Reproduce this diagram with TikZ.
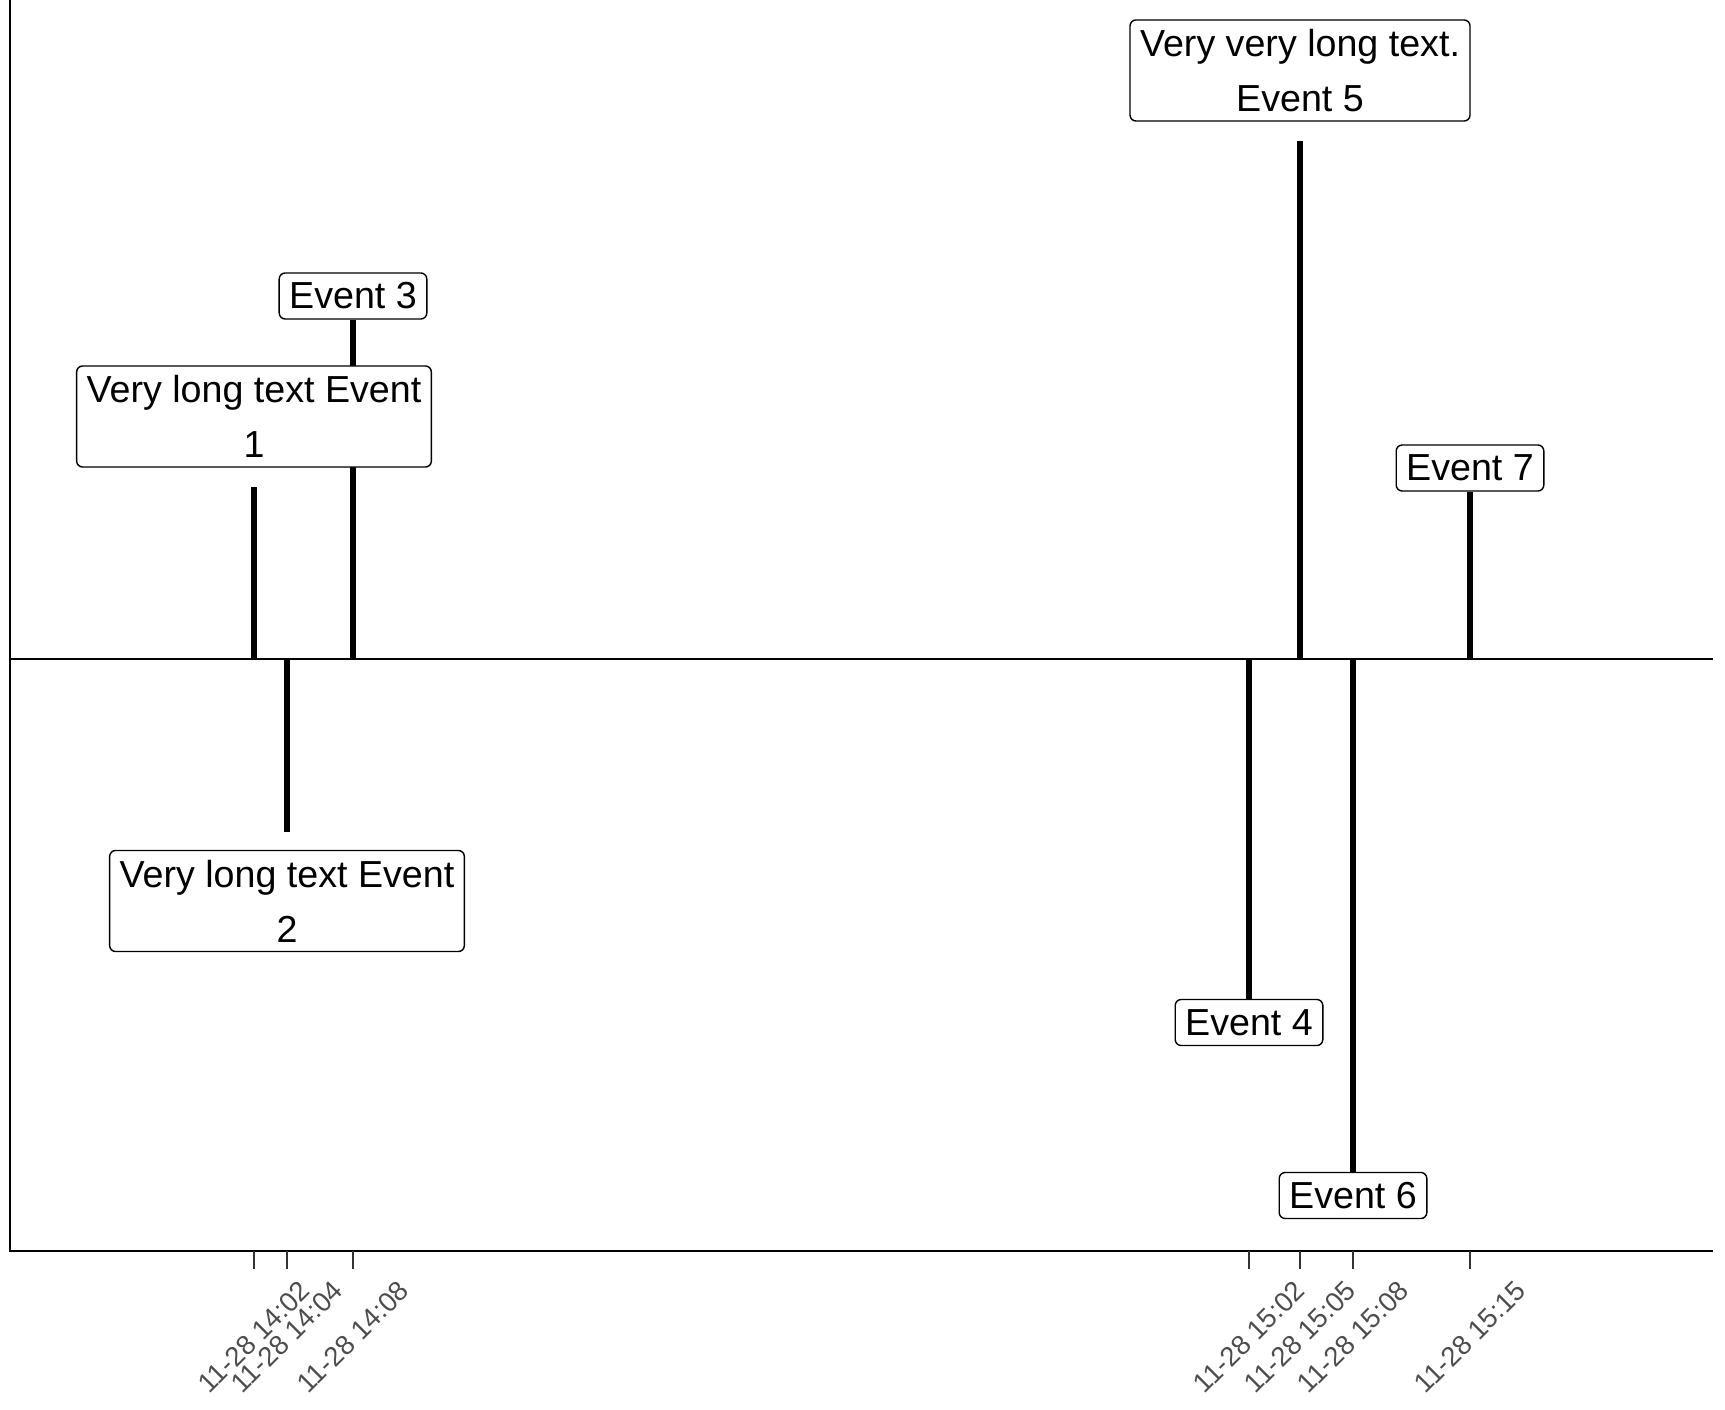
\documentclass[tikz,border=0pt]{standalone}
\usepackage{fontspec}
\setmainfont{Liberation Sans}
\usetikzlibrary{backgrounds}
\definecolor{tickgray}{RGB}{51,51,51}
\definecolor{labgray}{RGB}{77,77,77}

\begin{document}
\begin{tikzpicture}[x=0.01cm, y=-0.01cm,
  ev/.style={rectangle, rounded corners=0.06cm, draw=black, line width=0.4pt, fill=white, inner xsep=0.1cm, inner ysep=0.02cm, minimum height=0.46cm, align=center, font=\fontsize{10.7}{15.6}\selectfont},
  evtwo/.style={ev, minimum height=1.01cm},
  stem/.style={line width=1.6pt},
  axisline/.style={line width=0.7pt},
  tk/.style={draw=tickgray, line width=0.7pt},
  tklab/.style={rotate=45, font=\fontsize{7.8}{9}\selectfont, text=labgray}
]
\useasboundingbox (0,0) rectangle (1725,1410);
% axes
\draw[axisline] (10,0) -- (10,1251) -- (1713,1251);
\draw[line width=0.55pt] (10,659) -- (1713,659);
% baseline points
\coordinate (b1) at (254,659);
\coordinate (b2) at (287,659);
\coordinate (b3) at (353,659);
\coordinate (b4) at (1249,659);
\coordinate (b5) at (1300,659);
\coordinate (b6) at (1353,659);
\coordinate (b7) at (1470,659);
% event boxes
\node[ev] (e3) at (353,296) {Event 3};
\node[evtwo] (e1) at (254,416.5) {Very long text Event\\1};
\node[evtwo] (e2) at (287,901) {Very long text Event\\2};
\node[ev] (e4) at (1249,1022.5) {Event 4};
\node[evtwo] (e5) at (1300,70.5) {Very very long text.\\Event 5};
\node[ev] (e6) at (1353,1195.5) {Event 6};
\node[ev] (e7) at (1470,468) {Event 7};
\begin{scope}[on background layer]
\draw[stem, shorten >=0.19cm] (b1) -- (e1.south);
\draw[stem, shorten >=0.18cm] (b2) -- (e2.north);
\draw[stem] (b3) -- (e3.south);
\draw[stem] (b4) -- (e4.north);
\draw[stem, shorten >=0.19cm] (b5) -- (e5.south);
\draw[stem] (b6) -- (e6.north);
\draw[stem] (b7) -- (e7.south);
\end{scope}
% ticks and labels
\draw[tk] (254,1251) -- (254,1269);
\draw[tk] (287,1251) -- (287,1269);
\draw[tk] (353,1251) -- (353,1269);
\draw[tk] (1249,1251) -- (1249,1269);
\draw[tk] (1300,1251) -- (1300,1269);
\draw[tk] (1353,1251) -- (1353,1269);
\draw[tk] (1470,1251) -- (1470,1269);
\node[tklab] (t1) at (254,1337) {11-28 14:02};
\node[tklab] (t2) at (287,1337) {11-28 14:04};
\node[tklab] (t3) at (353,1337) {11-28 14:08};
\node[tklab] (t4) at (1249,1337) {11-28 15:02};
\node[tklab] (t5) at (1300,1337) {11-28 15:05};
\node[tklab] (t6) at (1353,1337) {11-28 15:08};
\node[tklab] (t7) at (1470,1337) {11-28 15:15};
\end{tikzpicture}
\end{document}
